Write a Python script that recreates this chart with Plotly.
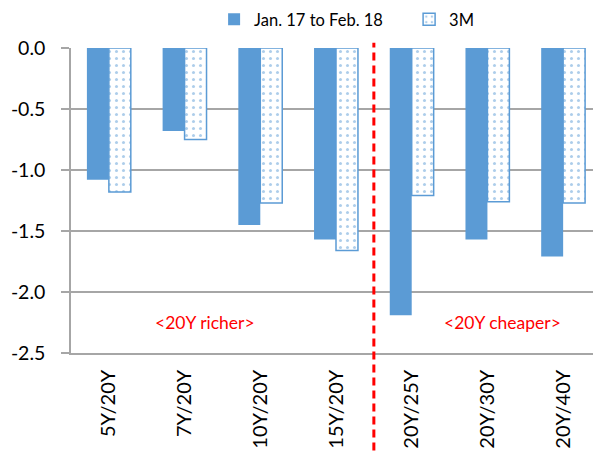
import plotly.graph_objects as go

categories = ["5Y/20Y", "7Y/20Y", "10Y/20Y", "15Y/20Y", "20Y/25Y", "20Y/30Y", "20Y/40Y"]
jan_feb = [-1.08, -0.68, -1.45, -1.57, -2.19, -1.57, -1.71]
three_m = [-1.18, -0.75, -1.27, -1.66, -1.21, -1.26, -1.27]
y_ticks = [0.0, -0.5, -1.0, -1.5, -2.0, -2.5]
series_names = ["Jan. 17 to Feb. 18", "3M"]

BLUE = "#5B9BD5"
GRID = "#A6A6A6"
FONT = "Lato"

x_idx = list(range(len(categories)))

fig = go.Figure()
fig.add_trace(go.Bar(
    x=x_idx, y=jan_feb, name=series_names[0],
    marker=dict(color=BLUE, line=dict(width=0)),
))
fig.add_trace(go.Bar(
    x=x_idx, y=three_m, name=series_names[1],
    marker=dict(color="white", line=dict(color=BLUE, width=1.5),
                pattern=dict(shape=".", fgcolor=BLUE, bgcolor="white", size=7, solidity=0.15)),
))

fig.update_layout(
    width=593, height=443,
    margin=dict(l=63, r=0, t=40, b=98, autoexpand=False),
    paper_bgcolor="white", plot_bgcolor="white",
    barmode="group", bargap=0.42, bargroupgap=0,
    font=dict(family=FONT, size=19, color="black"),
    showlegend=True,
    legend=dict(orientation="h", x=0.27, y=1.093, xanchor="left", yanchor="middle",
                font=dict(family=FONT, size=16.5), bgcolor="rgba(0,0,0,0)",
                entrywidth=150, traceorder="normal"),
    xaxis=dict(
        range=[-0.5, len(categories) - 0.5],
        tickmode="array", tickvals=x_idx, ticktext=categories,
        tickangle=-90, ticks="", showgrid=False, zeroline=False,
        showline=True, linecolor=GRID, linewidth=1.5,
        ticklabelstandoff=7, automargin=False,
        tickfont=dict(family=FONT, size=20),
    ),
    xaxis2=dict(
        overlaying="x", side="top", anchor="y",
        range=[-0.5, len(categories) - 0.5],
        tickmode="array", tickvals=[i + 0.5 for i in x_idx],
        ticks="inside", ticklen=8, tickwidth=1.5, tickcolor=GRID,
        showticklabels=False, showgrid=False, zeroline=False,
        showline=True, linecolor=GRID, linewidth=2,
    ),
    yaxis=dict(
        range=[-2.5, 0], tickmode="array", tickvals=y_ticks,
        ticktext=[f"{v:.1f}" for v in y_ticks],
        showgrid=True, gridcolor=GRID, gridwidth=1.5,
        zeroline=False, showline=True, linecolor=GRID, linewidth=1.5,
        ticks="outside", ticklen=8, tickwidth=1.5, tickcolor=GRID,
        ticklabelstandoff=12, automargin=False,
        tickfont=dict(family=FONT, size=19.5),
    ),
)

fig.add_shape(type="line", xref="x", yref="paper", x0=3.5, x1=3.5, y0=-0.32, y1=1.017,
              line=dict(color="#FF0000", width=3, dash="8px,5px"), layer="above")

fig.add_annotation(x=1.27, y=-2.25, xref="x", yref="y", text="&lt;20Y richer&gt;",
                   showarrow=False, font=dict(family=FONT, size=17.5, color="#FF0000"))
fig.add_annotation(x=5.2, y=-2.25, xref="x", yref="y", text="&lt;20Y cheaper&gt;",
                   showarrow=False, font=dict(family=FONT, size=17.5, color="#FF0000"))

fig.write_html("out.html")
